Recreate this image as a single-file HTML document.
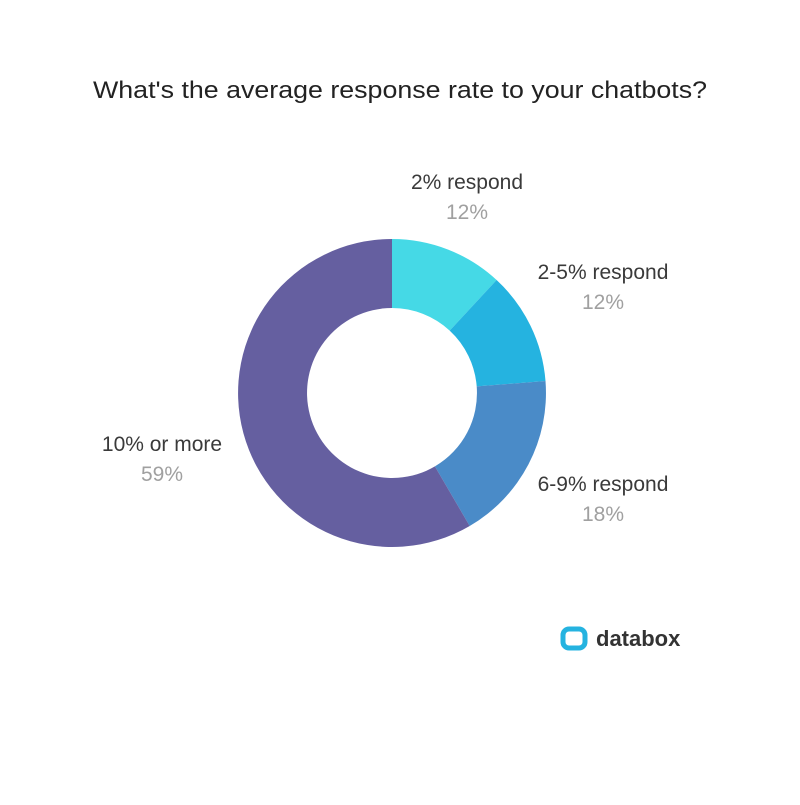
<!DOCTYPE html>
<html><head><style>
body{margin:0;width:800px;height:800px;background:#fff;overflow:hidden;}
</style></head><body>
<svg width="800" height="800" xmlns="http://www.w3.org/2000/svg" font-family="'Liberation Sans',sans-serif">
<text x="93" y="98" font-size="24" fill="#222" textLength="614" lengthAdjust="spacingAndGlyphs">What's the average response rate to your chatbots?</text>
<path d="M392 239 A154 154 0 0 1 496.6 280 L449.7 330.6 A85 85 0 0 0 392 308 Z" fill="#45d9e6"/>
<path d="M496.6 280 A154 154 0 0 1 545.5 381 L476.7 386.4 A85 85 0 0 0 449.7 330.6 Z" fill="#25b3e0"/>
<path d="M545.5 381 A154 154 0 0 1 469.7 526 L434.9 466.4 A85 85 0 0 0 476.7 386.4 Z" fill="#4a8bc8"/>
<path d="M469.7 526 A154 154 0 1 1 392 239 L392 308 A85 85 0 1 0 434.9 466.4 Z" fill="#655fa0"/>
<g font-size="21" text-anchor="middle">
<text x="467" y="189" fill="#3a3a3a">2% respond</text>
<text x="467" y="219" fill="#a0a0a0">12%</text>
<text x="603" y="279" fill="#3a3a3a">2-5% respond</text>
<text x="603" y="309" fill="#a0a0a0">12%</text>
<text x="603" y="491" fill="#3a3a3a">6-9% respond</text>
<text x="603" y="521" fill="#a0a0a0">18%</text>
<text x="162" y="451" fill="#3a3a3a">10% or more</text>
<text x="162" y="481" fill="#a0a0a0">59%</text>
</g>
<rect x="563" y="629" width="22" height="19" rx="6" fill="none" stroke="#25b3e0" stroke-width="5"/>
<text x="596" y="646" font-size="22" font-weight="bold" fill="#333">databox</text>
</svg>
</body></html>
